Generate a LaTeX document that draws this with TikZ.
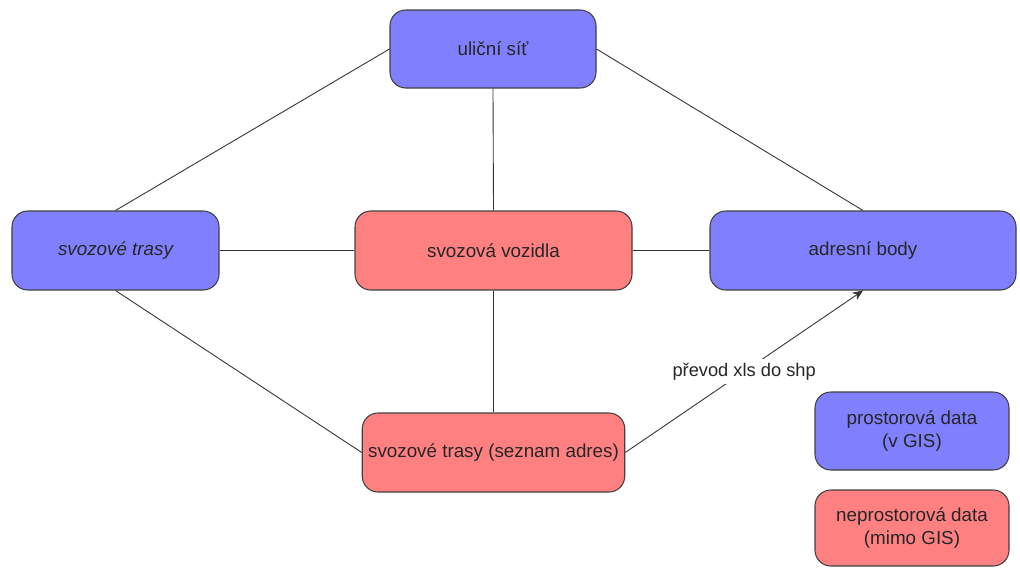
\documentclass[tikz,border=0pt]{standalone}
\usepackage{fontspec}
\setmainfont{Liberation Sans}
\usepackage{tikz}
\usetikzlibrary{arrows.meta, positioning}

\definecolor{gisblue}{RGB}{128,128,255}
\definecolor{gisred}{RGB}{255,128,128}

\begin{document}
\begin{tikzpicture}[
  spatial/.style={draw=black!75, rounded corners=9pt, fill=gisblue, align=center, font=\fontsize{10.7}{12.8}\selectfont, text=black!85, line width=0.6pt},
  nonspatial/.style={draw=black!75, rounded corners=9pt, fill=gisred, align=center, font=\fontsize{10.7}{12.8}\selectfont, text=black!85, line width=0.6pt},
  link/.style={draw=black!80, line width=0.5pt},
  arrow/.style={-{Stealth[length=6pt,width=5pt]}, draw=black!80, line width=0.5pt}
]
\useasboundingbox (0,0) rectangle (20.4,-11.36);

\node[spatial, minimum width=4.12cm, minimum height=1.56cm]    (ulice)   at (9.86,-0.98)  {uliční síť};
\node[spatial, minimum width=4.14cm, minimum height=1.58cm]    (trasy)   at (2.31,-5.01)  {\itshape svozové trasy};
\node[nonspatial, minimum width=5.54cm, minimum height=1.58cm]  (vozidla) at (9.87,-5.01)  {svozová vozidla};
\node[spatial, minimum width=6.12cm, minimum height=1.58cm]    (adresy)  at (17.26,-5.01) {adresní body};
\node[nonspatial, minimum width=5.22cm, minimum height=1.58cm]  (seznam)  at (9.87,-9.05)  {svozové trasy (seznam adres)};

\node[spatial, minimum width=3.88cm, minimum height=1.56cm]    (legspat) at (18.24,-8.62) {prostorová data\\(v GIS)};
\node[nonspatial, minimum width=3.88cm, minimum height=1.52cm]  (legnon)  at (18.24,-10.56){neprostorová data\\(mimo GIS)};

\draw[link] (ulice.west)   -- (trasy.north);
\draw[link] (ulice.east)   -- (adresy.north);
\draw[link] (ulice.south)  -- (vozidla.north);
\draw[link] (trasy.east)   -- (vozidla.west);
\draw[link] (vozidla.east) -- (adresy.west);
\draw[link] (trasy.south)  -- (seznam.west);
\draw[link] (vozidla.south) -- (seznam.north);
\draw[arrow] (seznam.east) -- node[pos=0.5, fill=white, inner sep=2pt, font=\fontsize{10.4}{12}\selectfont, text=black!85] (prevod) {převod xls do shp} (adresy.south);

\end{tikzpicture}
\end{document}
